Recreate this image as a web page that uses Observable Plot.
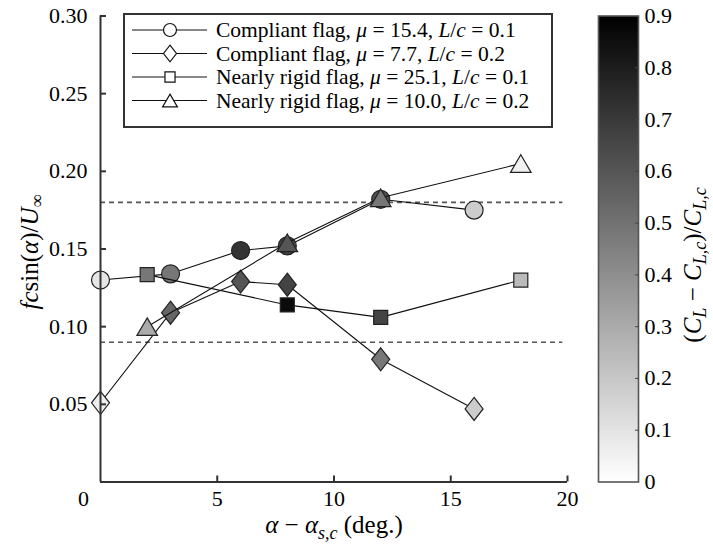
<!DOCTYPE html>
<html><head><meta charset="utf-8">
<script src="https://cdn.jsdelivr.net/npm/d3@7"></script>
<script src="https://cdn.jsdelivr.net/npm/@observablehq/plot@0.6"></script>
<style>
body{margin:0;background:#fff;}
#wrap{display:flex;width:713px;height:544px;overflow:hidden;}
#wrap svg, #wrap svg text, #wrap svg tspan{font-family:"Liberation Serif","Times New Roman",serif !important;}
</style></head><body><div id="wrap"></div>
<script>
// ---- data ----
const seriesNames = [
  ["Compliant flag, ", "15.4", "0.1"],
  ["Compliant flag, ", "7.7", "0.2"],
  ["Nearly rigid flag, ", "25.1", "0.1"],
  ["Nearly rigid flag, ", "10.0", "0.2"]
];
const circleX = [0, 3, 6, 8, 12, 16];
const circleY = [0.130, 0.134, 0.149, 0.152, 0.182, 0.175];
const circleC = [0.09, 0.48, 0.72, 0.66, 0.62, 0.18];
const diamondX = [0, 3, 6, 8, 12, 16];
const diamondY = [0.051, 0.109, 0.129, 0.127, 0.079, 0.047];
const diamondC = [0.06, 0.54, 0.60, 0.66, 0.48, 0.18];
const squareX = [2, 8, 12, 18];
const squareY = [0.1335, 0.114, 0.106, 0.130];
const squareC = [0.48, 0.86, 0.66, 0.24];
const triangleX = [2, 8, 12, 18];
const triangleY = [0.100, 0.154, 0.183, 0.205];
const triangleC = [0.30, 0.60, 0.48, 0.05];
const refLines = [0.09, 0.18];
const xTicks = [5, 10, 15, 20];
const yTicks = [0.05, 0.10, 0.15, 0.20, 0.25, 0.30];
const cTicks = [0, 0.1, 0.2, 0.3, 0.4, 0.5, 0.6, 0.7, 0.8, 0.9];

// ---- symbols ----
const symCircle = {draw(ctx, size){const s=Math.sqrt(size/Math.PI), r=9*s; ctx.moveTo(r,0); ctx.arc(0,0,r,0,2*Math.PI); ctx.closePath();}};
const symDiamond = {draw(ctx, size){const s=Math.sqrt(size/Math.PI), w=9*s, h=11.5*s; ctx.moveTo(0,-h); ctx.lineTo(w,0); ctx.lineTo(0,h); ctx.lineTo(-w,0); ctx.closePath();}};
const symSquare = {draw(ctx, size){const s=Math.sqrt(size/Math.PI), a=7*s; ctx.moveTo(-a,-a); ctx.lineTo(a,-a); ctx.lineTo(a,a); ctx.lineTo(-a,a); ctx.closePath();}};
const symTriangle = {draw(ctx, size){const s=Math.sqrt(size/Math.PI), w=10.3*s, h=8.8*s; ctx.moveTo(0,-h); ctx.lineTo(w,h); ctx.lineTo(-w,h); ctx.closePath();}};

const series = [
  {sym: symCircle, xs: circleX, ys: circleY, cs: circleC},
  {sym: symDiamond, xs: diamondX, ys: diamondY, cs: diamondC},
  {sym: symSquare, xs: squareX, ys: squareY, cs: squareC},
  {sym: symTriangle, xs: triangleX, ys: triangleY, cs: triangleC}
].map(s => ({...s, rows: s.xs.map((x, j) => ({x, y: s.ys[j], c: s.cs[j]}))}));

const colorScale = {type: "linear", domain: [0, 0.9], range: ["#ffffff", "#000000"], interpolate: "rgb"};
const serif = "Liberation Serif";

const marks = [
  Plot.ruleY(refLines, {x1: 0, x2: 19.8, stroke: "#555", strokeWidth: 1.6, strokeDasharray: "5,4"}),
];
for (const s of series) {
  marks.push(Plot.line(s.rows, {x: "x", y: "y", stroke: "#111", strokeWidth: 1.1}));
  marks.push(Plot.dot(s.rows, {x: "x", y: "y", fill: "c", symbol: s.sym, r: 1, stroke: "#222", strokeWidth: 1.2}));
}
marks.push(
  Plot.ruleX([0], {y1: 0, y2: 0.3, stroke: "#333", strokeWidth: 2}),
  Plot.ruleY([0], {x1: 0, x2: 20, stroke: "#333", strokeWidth: 2}),
  Plot.axisY(yTicks, {tickSize: 0, tickPadding: 13, tickFormat: d => d.toFixed(2), label: null, fill: "#000"}),
  Plot.axisY(yTicks, {tickSize: 6, dx: 6, text: null, label: null, stroke: "#333", strokeWidth: 2}),
  Plot.axisX(xTicks, {tickSize: 0, tickPadding: 8, label: null, fill: "#000"}),
  Plot.axisX([0], {tickSize: 0, tickPadding: 8, dx: -17, label: null, fill: "#000"}),
  Plot.axisX(xTicks, {tickSize: 6, dy: -6, text: null, label: null, stroke: "#333", strokeWidth: 2})
);

const main = Plot.plot({
  width: 590, height: 544,
  marginLeft: 100, marginRight: 23, marginTop: 15.5, marginBottom: 62.5,
  x: {domain: [0, 20]},
  y: {domain: [0, 0.3]},
  color: colorScale,
  style: {fontFamily: serif, fontSize: "22px", color: "#000", background: "#fff", overflow: "visible"},
  marks
});

const cbVals = d3.range(0, 0.9, 0.0025);
const cb = Plot.plot({
  width: 123, height: 544,
  marginLeft: 8, marginRight: 75, marginTop: 15.5, marginBottom: 62.5,
  x: {domain: [0, 1], axis: null},
  y: {domain: [0, 0.9]},
  color: colorScale,
  style: {fontFamily: serif, fontSize: "22px", color: "#000", background: "#fff", overflow: "visible"},
  marks: [
    Plot.rect(cbVals, {x1: 0, x2: 1, y1: d => d, y2: d => Math.min(0.9, d + 0.0028), fill: d => d + 0.00125, shapeRendering: "crispEdges"}),
    Plot.frame({stroke: "#555", strokeWidth: 1.6}),
    Plot.axisY(cTicks, {anchor: "right", tickSize: 0, tickPadding: 6, tickFormat: d => d === 0 ? "0" : d.toFixed(1), label: null, fill: "#000"}),
    Plot.axisY(cTicks.slice(1, -1), {anchor: "right", tickSize: 4, dx: -4, text: null, label: null, stroke: "#444"})
  ]
});

document.getElementById("wrap").append(main, cb);

// ---- rich text helpers ----
function rich(sel, parts) {
  for (const p of parts) {
    const t = sel.append("tspan").text(p.t);
    if (p.i) t.attr("font-style", "italic");
    if (p.dy) t.attr("dy", p.dy);
    if (p.fs) t.attr("font-size", p.fs);
  }
}

const ms = d3.select(main);
// y-axis title
const yt = ms.append("text").attr("transform", "translate(38,252) rotate(-90)")
  .attr("text-anchor", "middle").attr("font-size", 25).attr("fill", "#000");
rich(yt, [{t: "f", i: 1}, {t: "c", i: 1}, {t: "sin("}, {t: "α", i: 1}, {t: ")/"}, {t: "U", i: 1}, {t: "∞", dy: 5, fs: 18}]);
// x-axis title
const xt = ms.append("text").attr("x", 334).attr("y", 533)
  .attr("text-anchor", "middle").attr("font-size", 25).attr("fill", "#000");
rich(xt, [{t: "α", i: 1}, {t: " − "}, {t: "α", i: 1}, {t: "s,c", i: 1, fs: 18, dy: 6}, {t: " (deg.)", dy: -6}]);

// legend
const lg = ms.append("g");
lg.append("rect").attr("x", 124).attr("y", 14).attr("width", 428).attr("height", 113)
  .attr("fill", "#fff").attr("stroke", "#333").attr("stroke-width", 2);
series.forEach((s, i) => {
  const cy = 30 + i * 23.5;
  lg.append("line").attr("x1", 132).attr("x2", 207).attr("y1", cy).attr("y2", cy).attr("stroke", "#111").attr("stroke-width", 1.1);
  lg.append("path").attr("transform", `translate(170,${cy})`)
    .attr("d", d3.symbol(s.sym, Math.PI * 0.72 * 0.72)())
    .attr("fill", "#fff").attr("stroke", "#111").attr("stroke-width", 1.2);
  const tx = lg.append("text").attr("x", 216).attr("y", cy + 7).attr("font-size", 21.5)
    .attr("fill", "#000").attr("text-anchor", "start");
  const n = seriesNames[i];
  rich(tx, [{t: n[0]}, {t: "μ", i: 1}, {t: " = " + n[1] + ", "}, {t: "L", i: 1}, {t: "/"}, {t: "c", i: 1}, {t: " = " + n[2]}]);
});

// colorbar title
const cs = d3.select(cb);
const ct = cs.append("text").attr("transform", "translate(111,265) rotate(-90)")
  .attr("text-anchor", "middle").attr("font-size", 25).attr("fill", "#000");
rich(ct, [{t: "("}, {t: "C", i: 1}, {t: "L", i: 1, fs: 18, dy: 5}, {t: " − ", dy: -5}, {t: "C", i: 1}, {t: "L,c", i: 1, fs: 18, dy: 5}, {t: ")/", dy: -5}, {t: "C", i: 1}, {t: "L,c", i: 1, fs: 18, dy: 5}]);
</script></body></html>
